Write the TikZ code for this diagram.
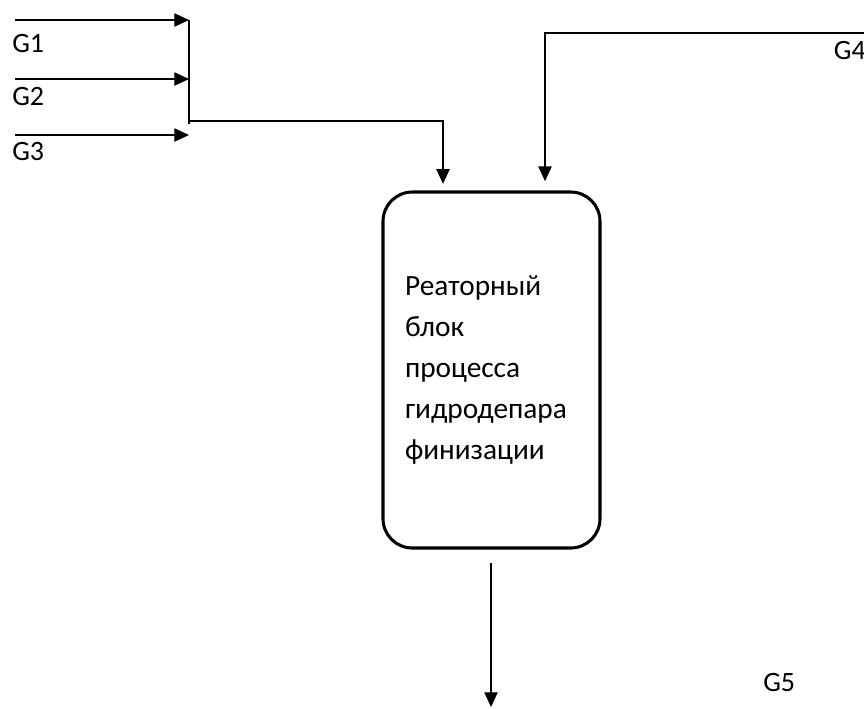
\documentclass[tikz,border=0pt]{standalone}
\usepackage{fontspec}
\setmainfont{Carlito}
\usetikzlibrary{arrows.meta,calc}
\begin{document}
\begin{tikzpicture}[x=0.75pt,y=-0.75pt,
  flow/.style={line width=0.8pt,-{Triangle[length=11pt,width=10pt]}},
  plain/.style={line width=0.8pt},
  lbl/.style={font=\fontsize{21pt}{24pt}\selectfont,inner sep=0pt},
  reactor/.style={draw,line width=2.3pt,rounded corners=22pt,minimum width=162.75pt,minimum height=267pt,
    inner xsep=16.5pt,text width=129.75pt,align=left,
    font=\fontsize{22pt}{30.75pt}\selectfont}]
\useasboundingbox (0,0) rectangle (864,708);
\node[reactor] (box) at (491.5,370) {Реаторный\\блок\\процесса\\гидродепара\\финизации};
% inputs G1-G3
\coordinate (s1) at (15,20);  \coordinate (e1) at (189,20);
\coordinate (s2) at (15,79);  \coordinate (e2) at (189,79);
\coordinate (s3) at (15,135); \coordinate (e3) at (189,135);
\draw[flow] (s1) -- (e1);
\draw[flow] (s2) -- (e2);
\draw[flow] (s3) -- (e3);
\node[lbl,anchor=west] (g1) at (12,44) {G1};
\node[lbl,anchor=west] (g2) at (12,97) {G2};
\node[lbl,anchor=west] (g3) at (12,152) {G3};
% collector
\coordinate (c1) at (189,20);
\coordinate (c2) at (189,124);
\coordinate (j) at (189,121);
\draw[plain] (c1) -- (c2);
\draw[flow,shorten >=5pt] (j) -- (443,121) -- (443,121 |- box.north);
% G4
\coordinate (s4) at (864,33);
\draw[flow,shorten >=7pt] (s4) -- (545,33) -- (545,33 |- box.north);
\node[lbl,anchor=east] (g4) at (866,51) {G4};
% output G5
\coordinate (e5) at (491,707);
\draw[flow,shorten <=10pt] (491,548 |- box.south) -- (e5);
\node[lbl,anchor=west] (g5) at (763,682) {G5};
\end{tikzpicture}
\end{document}
